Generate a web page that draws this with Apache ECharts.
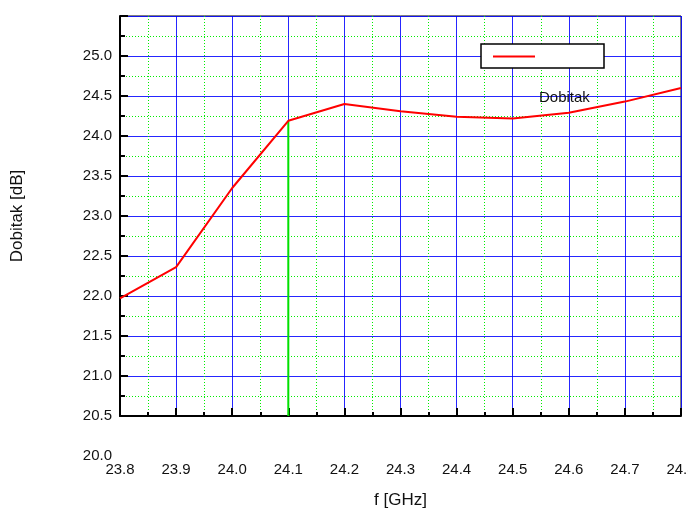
<!DOCTYPE html>
<html>
<head>
<meta charset="utf-8">
<script src="https://cdn.jsdelivr.net/npm/echarts@6/dist/echarts.min.js"></script>
<style>
  html, body { margin: 0; padding: 0; background: #fff; }
  #chart { width: 688px; height: 512px; }
</style>
</head>
<body>
<div id="chart"></div>
<script>
// Frequency sweep (GHz) and measured gain (dB)
const freqGHz = [23.8, 23.9, 24.0, 24.1, 24.2, 24.3, 24.4, 24.5, 24.6, 24.7, 24.8];
const gainDb  = [21.97, 22.36, 23.35, 24.19, 24.40, 24.31, 24.24, 24.22, 24.29, 24.43, 24.60];

// Marker at the design frequency
const markerFreq = 24.1;
const markerGain = 24.19;

// Axis ranges
const xRange = [23.8, 24.8];
const yRange = [20.5, 25.5];

const seriesName = 'Dobitak';
const xTitle = 'f [GHz]';
const yTitle = 'Dobitak [dB]';
const extraYLabel = '20.0';

const font = 'Liberation Sans, Arial, sans-serif';
const textColor = '#111';

const chart = echarts.init(document.getElementById('chart'), null, { renderer: 'canvas' });

const option = {
  animation: false,
  backgroundColor: '#ffffff',
  grid: {
    left: 120, right: 7, top: 16, bottom: 96,
    outerBoundsMode: 'none', containLabel: false,
    show: true, borderColor: '#000', borderWidth: 1, backgroundColor: 'transparent'
  },
  xAxis: {
    type: 'value',
    min: xRange[0], max: xRange[1], interval: 0.1,
    name: xTitle, nameLocation: 'middle', nameGap: 76,
    nameTextStyle: { fontFamily: font, fontSize: 17, color: textColor },
    axisLine: { show: true, onZero: false, lineStyle: { color: '#000', width: 2 } },
    axisTick: { show: true, inside: true, length: 8, lineStyle: { color: '#000', width: 2 } },
    minorTick: { show: true, splitNumber: 2, length: 4, lineStyle: { color: '#000', width: 2 } },
    axisLabel: {
      margin: 46, fontFamily: font, fontSize: 15, color: textColor,
      hideOverlap: false, showMaxLabel: true,
      formatter: v => v.toFixed(1)
    },
    splitLine: { show: true, lineStyle: { color: '#0000ff', width: 1, opacity: 0.85 } },
    minorSplitLine: { show: true, lineStyle: { color: '#00ee00', width: 1, type: [1, 2] } }
  },
  yAxis: {
    type: 'value',
    min: yRange[0], max: yRange[1], interval: 0.5,
    name: yTitle, nameLocation: 'middle', nameGap: 94, nameRotate: 90,
    nameTextStyle: { fontFamily: font, fontSize: 17, color: textColor },
    axisLine: { show: true, onZero: false, lineStyle: { color: '#000', width: 2 } },
    axisTick: { show: true, inside: true, length: 8, lineStyle: { color: '#000', width: 2 } },
    minorTick: { show: true, splitNumber: 2, length: 5, lineStyle: { color: '#000', width: 2 } },
    axisLabel: {
      margin: 8, fontFamily: font, fontSize: 15, color: textColor,
      formatter: v => (v >= yRange[1] - 1e-9 ? '' : v.toFixed(1))
    },
    splitLine: { show: true, lineStyle: { color: '#0000ff', width: 1, opacity: 0.85 } },
    minorSplitLine: { show: true, lineStyle: { color: '#00ee00', width: 1, type: [1, 2] } }
  },
  series: [
    {
      name: 'marker',
      type: 'line',
      data: [[markerFreq, yRange[0]], [markerFreq, markerGain]],
      showSymbol: false,
      lineStyle: { color: '#00e000', width: 2 },
      silent: true, z: 3
    },
    {
      name: seriesName,
      type: 'line',
      data: freqGHz.map((f, i) => [f, gainDb[i]]),
      showSymbol: false,
      lineStyle: { color: '#ff0000', width: 2 },
      clip: true, z: 4
    }
  ],
  graphic: [
    {
      type: 'rect', z: 10,
      shape: { x: 481, y: 44, width: 123, height: 24 },
      style: { fill: '#fff', stroke: '#000', lineWidth: 1.5 }
    },
    {
      type: 'line', z: 11,
      shape: { x1: 493, y1: 56.5, x2: 535, y2: 56.5 },
      style: { stroke: '#ff0000', lineWidth: 2 }
    },
    {
      type: 'text', z: 11,
      style: {
        text: seriesName, x: 539, y: 98, verticalAlign: 'middle',
        fontFamily: font, fontSize: 15, fill: textColor
      }
    },
    {
      type: 'text', z: 11,
      style: {
        text: extraYLabel, x: 112, y: 456, align: 'right', verticalAlign: 'middle',
        fontFamily: font, fontSize: 15, fill: textColor
      }
    }
  ]
};

chart.setOption(option);
</script>
</body>
</html>
